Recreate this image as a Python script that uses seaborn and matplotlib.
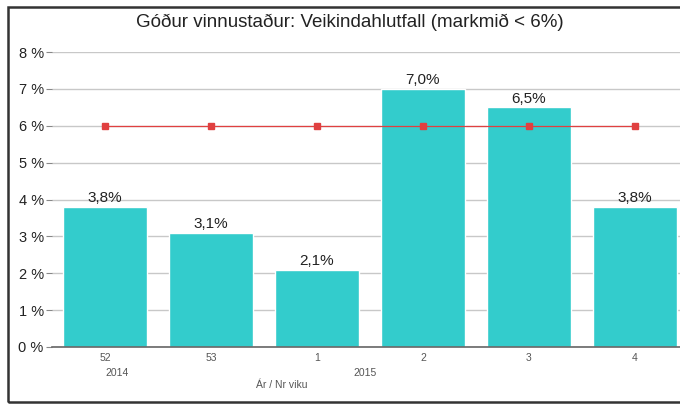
import matplotlib
matplotlib.use("Agg")
import matplotlib.pyplot as plt
import seaborn as sns
import pandas as pd
from matplotlib.patches import Rectangle

# data
weeks = ["52", "53", "1", "2", "3", "4"]
sick_rate = [3.8, 3.1, 2.1, 7.0, 6.5, 3.8]
target = [6, 6, 6, 6, 6, 6]
year_labels = ["2014", "2015"]
year_pos = [0.11, 2.45]
y_ticks = [0, 1, 2, 3, 4, 5, 6, 7, 8]

df = pd.DataFrame({"week": weeks, "rate": sick_rate})

sns.set_style("white")
plt.rcParams["font.family"] = ["Liberation Sans", "DejaVu Sans"]

fig = plt.figure(figsize=(6.8, 4.07), dpi=100)
ax = fig.add_axes([52 / 680, 1 - 347 / 407, 636 / 680, 295 / 407])

# outer frame (right side runs off the picture)
fig.patches.append(Rectangle((8 / 680, 5 / 407), 1.2, 395 / 407,
                             transform=fig.transFigure, fill=False,
                             edgecolor="#333333", linewidth=1.8))

ax.set_ylim(0, 8)
ax.set_yticks(y_ticks)
ax.yaxis.grid(True, color="#c8c8c8", linewidth=1)
ax.set_axisbelow(True)

sns.barplot(data=df, x="week", y="rate", order=weeks, color="#33cccc",
            saturation=1, width=0.8, ax=ax)

ax.plot(range(len(weeks)), target, color="#e04040", linewidth=0.9,
        marker="s", markersize=4.5, zorder=3)

ax.bar_label(ax.containers[0],
             labels=[f"{v:.1f}%".replace(".", ",") for v in sick_rate],
             padding=1, fontsize=11, color="#222222")

ax.set_xlim(-0.5, len(weeks) - 0.5)
ax.set_yticklabels([f"{t} %" for t in y_ticks], fontsize=10.5, color="#222222")
ax.tick_params(axis="y", length=4, color="#888888", pad=2, left=True)
ax.tick_params(axis="x", length=0, labelsize=7.5, labelcolor="#555555", pad=4)
ax.set_xlabel("")
ax.set_ylabel("")

for s in ["top", "right", "left"]:
    ax.spines[s].set_visible(False)
ax.spines["bottom"].set_color("#666666")
ax.spines["bottom"].set_linewidth(1.2)

for lab, pos in zip(year_labels, year_pos):
    ax.text(pos, -0.7, lab, ha="center", va="center", fontsize=7.5,
            color="#555555")
ax.text(1.67, -1.04, "Ár / Nr viku", ha="center", va="center",
        fontsize=7.5, color="#555555")

fig.text(350 / 680, 1 - 22 / 407,
         "Góður vinnustaður: Veikindahlutfall (markmið < 6%)",
         ha="center", va="center", fontsize=13.5, color="#222222")

fig.savefig("out.png", dpi=100)
